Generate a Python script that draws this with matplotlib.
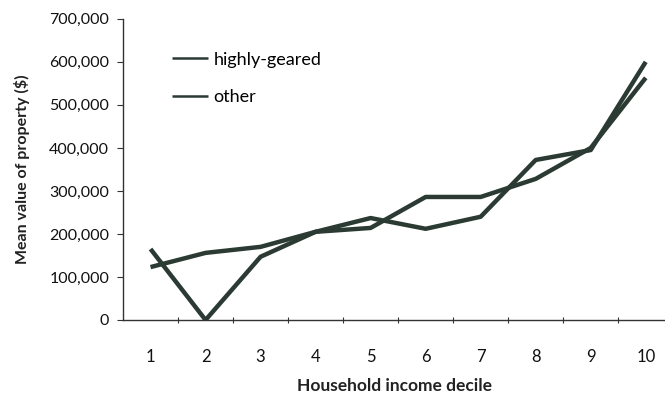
import numpy as np
import matplotlib.pyplot as plt
from matplotlib.ticker import FuncFormatter

plt.rcParams['font.family'] = ['Lato', 'DejaVu Sans']

# data
deciles = [1, 2, 3, 4, 5, 6, 7, 8, 9, 10]
highly_geared = [165000, 0, 147000, 205000, 237000, 212000, 240000, 372000, 395000, 600000]
other = [123000, 156000, 170000, 205000, 214000, 286000, 286000, 328000, 400000, 563000]

line_col = '#2b3b34'

fig = plt.figure(figsize=(6.65, 4.01), dpi=100)
ax = fig.add_axes([0.185, 0.202, 0.815, 0.751])

ax.plot(deciles, highly_geared, color=line_col, linewidth=3.2, solid_capstyle='butt',
        label='highly-geared')
ax.plot(deciles, other, color=line_col, linewidth=3.2, solid_capstyle='butt',
        label='other')

ax.set_xlim(0.5, 10.35)
ax.set_ylim(0, 700000)

ax.set_yticks(np.arange(0, 700001, 100000))
ax.yaxis.set_major_formatter(FuncFormatter(lambda v, p: f'{int(v):,}'))

# category ticks sit between the deciles, labels under each decile
ax.set_xticks(np.arange(1.5, 10.5, 1.0))
ax.set_xticklabels([])
ax.set_xticks(deciles, minor=True)
ax.set_xticklabels([str(d) for d in deciles], minor=True)
ax.tick_params(axis='x', which='minor', length=0, pad=21, labelsize=12, colors='#111111')
ax.tick_params(axis='x', which='major', length=4, direction='inout', color='#333333')
ax.tick_params(axis='y', length=4, direction='out', pad=6, labelsize=11.5,
               colors='#111111', color='#333333')

for s in ['top', 'right']:
    ax.spines[s].set_visible(False)
for s in ['left', 'bottom']:
    ax.spines[s].set_color('#333333')
    ax.spines[s].set_linewidth(1.0)

ax.set_xlabel('Household income decile', fontsize=12.5, fontweight='bold',
              color='#222222', labelpad=9)
ax.set_ylabel('Mean value of property ($)', fontsize=11.5, fontweight='bold',
              color='#222222', labelpad=14)

leg = ax.legend(loc='upper left', bbox_to_anchor=(0.06, 0.945), frameon=False,
                fontsize=13, handlelength=2.0, handletextpad=0.3, labelspacing=1.2)
for h in leg.get_lines():
    h.set_linewidth(1.8)

fig.savefig('out.png', dpi=100)
